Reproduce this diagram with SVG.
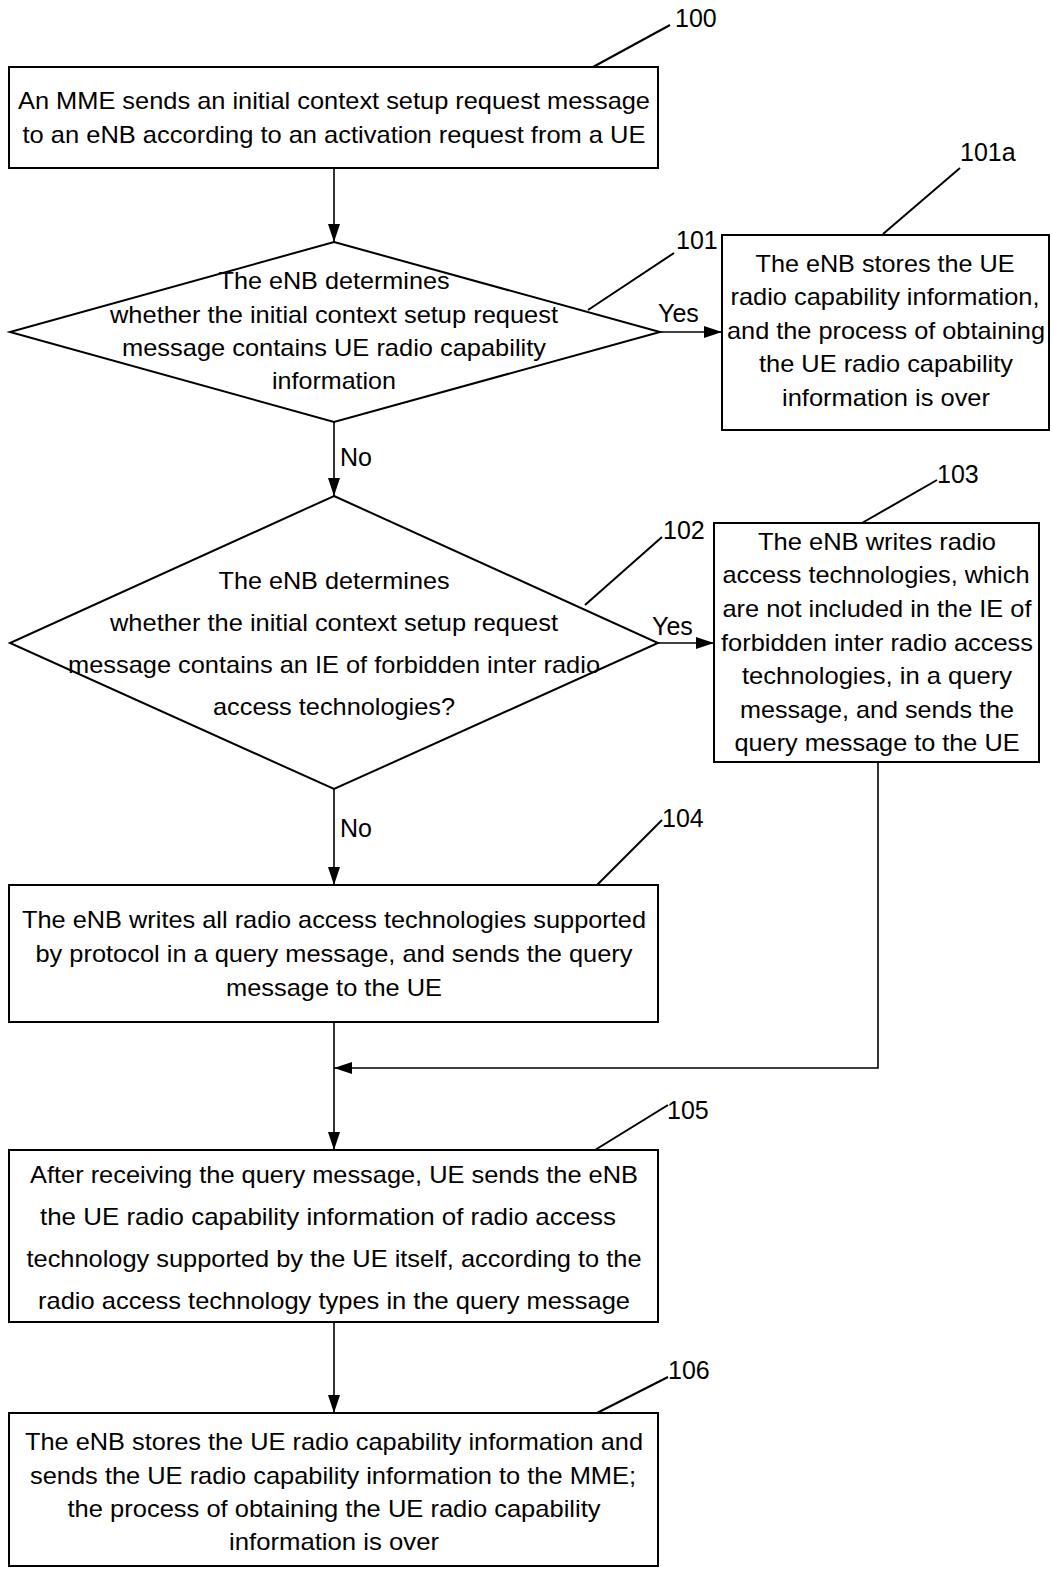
<svg xmlns="http://www.w3.org/2000/svg" width="1052" height="1569" viewBox="0 0 1052 1569">
<style>
.b{fill:#fff;stroke:#000;stroke-width:2}
.t{font-family:"Liberation Sans",Arial,sans-serif;font-size:24px;fill:#000;text-anchor:middle}
.n{font-family:"Liberation Sans",Arial,sans-serif;font-size:25px;fill:#000}
.l{stroke:#000;stroke-width:2;fill:none}
.c{stroke:#000;stroke-width:1.6;fill:none}
</style>
<defs>
<marker id="ah" viewBox="0 0 18 12" refX="18" refY="6" markerWidth="18" markerHeight="12" markerUnits="userSpaceOnUse" orient="auto">
<path d="M0,0 L18,6 L0,12 Z" fill="#000"/>
</marker>
</defs>
<rect width="1052" height="1569" fill="#fff"/>

<g id="connectors">
<line class="c" x1="334" y1="168" x2="334" y2="242" marker-end="url(#ah)"/>
<line class="c" x1="660" y1="332" x2="722" y2="332" marker-end="url(#ah)"/>
<line class="c" x1="334" y1="422" x2="334" y2="496" marker-end="url(#ah)"/>
<line class="c" x1="658" y1="643" x2="714" y2="643" marker-end="url(#ah)"/>
<line class="c" x1="334" y1="789" x2="334" y2="885" marker-end="url(#ah)"/>
<line class="c" x1="334" y1="1022" x2="334" y2="1150" marker-end="url(#ah)"/>
<polyline class="c" points="878,762 878,1068 334,1068" marker-end="url(#ah)"/>
<line class="c" x1="334" y1="1322" x2="334" y2="1413" marker-end="url(#ah)"/>
<text class="n" x="658" y="322">Yes</text>
<text class="n" x="652" y="635">Yes</text>
<text class="n" x="340" y="466">No</text>
<text class="n" x="340" y="837">No</text>
</g>

<g id="n100">
<rect class="b" x="9" y="67" width="649" height="101"/>
<text class="t" x="334" y="109" textLength="632" lengthAdjust="spacingAndGlyphs">An MME sends an initial context setup request message</text>
<text class="t" x="334" y="143" textLength="623" lengthAdjust="spacingAndGlyphs">to an eNB according to an activation request from a UE</text>
<line class="l" x1="593" y1="67" x2="670" y2="25"/>
<text class="n" x="675" y="27">100</text>
</g>

<g id="n101">
<polygon class="b" points="334,242 660,332 334,422 10,332"/>
<text class="t" x="334" y="289" textLength="231" lengthAdjust="spacingAndGlyphs">The eNB determines</text>
<text class="t" x="334" y="323" textLength="448" lengthAdjust="spacingAndGlyphs">whether the initial context setup request</text>
<text class="t" x="334" y="356" textLength="424" lengthAdjust="spacingAndGlyphs">message contains UE radio capability</text>
<text class="t" x="334" y="389" textLength="124" lengthAdjust="spacingAndGlyphs">information</text>
<line class="l" x1="588" y1="310" x2="674" y2="253"/>
<text class="n" x="676" y="249">101</text>
</g>

<g id="n101a">
<rect class="b" x="722" y="235" width="327" height="195"/>
<text class="t" x="885" y="272" textLength="259" lengthAdjust="spacingAndGlyphs">The eNB stores the UE</text>
<text class="t" x="885" y="305" textLength="309" lengthAdjust="spacingAndGlyphs">radio capability information,</text>
<text class="t" x="886" y="339" textLength="318" lengthAdjust="spacingAndGlyphs">and the process of obtaining</text>
<text class="t" x="886" y="372" textLength="254" lengthAdjust="spacingAndGlyphs">the UE radio capability</text>
<text class="t" x="886" y="406" textLength="208" lengthAdjust="spacingAndGlyphs">information is over</text>
<line class="l" x1="883" y1="234" x2="960" y2="168"/>
<text class="n" x="960" y="161">101a</text>
</g>

<g id="n102">
<polygon class="b" points="334,496 658,643 334,789 10,643"/>
<text class="t" x="334" y="589" textLength="231" lengthAdjust="spacingAndGlyphs">The eNB determines</text>
<text class="t" x="334" y="631" textLength="448" lengthAdjust="spacingAndGlyphs">whether the initial context setup request</text>
<text class="t" x="334" y="673" textLength="532" lengthAdjust="spacingAndGlyphs">message contains an IE of forbidden inter radio</text>
<text class="t" x="334" y="715" textLength="242" lengthAdjust="spacingAndGlyphs">access technologies?</text>
<line class="l" x1="585" y1="605" x2="662" y2="537"/>
<text class="n" x="663" y="539">102</text>
</g>

<g id="n103">
<rect class="b" x="714" y="523" width="325" height="239"/>
<text class="t" x="877" y="550" textLength="238" lengthAdjust="spacingAndGlyphs">The eNB writes radio</text>
<text class="t" x="876" y="583" textLength="307" lengthAdjust="spacingAndGlyphs">access technologies, which</text>
<text class="t" x="877" y="617" textLength="309" lengthAdjust="spacingAndGlyphs">are not included in the IE of</text>
<text class="t" x="877" y="651" textLength="312" lengthAdjust="spacingAndGlyphs">forbidden inter radio access</text>
<text class="t" x="877" y="684" textLength="270" lengthAdjust="spacingAndGlyphs">technologies, in a query</text>
<text class="t" x="877" y="718" textLength="274" lengthAdjust="spacingAndGlyphs">message, and sends the</text>
<text class="t" x="877" y="751" textLength="285" lengthAdjust="spacingAndGlyphs">query message to the UE</text>
<line class="l" x1="862" y1="523" x2="937" y2="480"/>
<text class="n" x="937" y="483">103</text>
</g>

<g id="n104">
<rect class="b" x="9" y="885" width="649" height="137"/>
<text class="t" x="334" y="928" textLength="624" lengthAdjust="spacingAndGlyphs">The eNB writes all radio access technologies supported</text>
<text class="t" x="334" y="962" textLength="597" lengthAdjust="spacingAndGlyphs">by protocol in a query message, and sends the query</text>
<text class="t" x="334" y="996" textLength="216" lengthAdjust="spacingAndGlyphs">message to the UE</text>
<line class="l" x1="597" y1="885" x2="662" y2="820"/>
<text class="n" x="662" y="827">104</text>
</g>

<g id="n105">
<rect class="b" x="9" y="1150" width="649" height="172"/>
<text class="t" x="334" y="1183" textLength="608" lengthAdjust="spacingAndGlyphs">After receiving the query message, UE sends the eNB</text>
<text class="t" x="328" y="1225" textLength="576" lengthAdjust="spacingAndGlyphs">the UE radio capability information of radio access</text>
<text class="t" x="334" y="1267" textLength="615" lengthAdjust="spacingAndGlyphs">technology supported by the UE itself, according to the</text>
<text class="t" x="334" y="1309" textLength="592" lengthAdjust="spacingAndGlyphs">radio access technology types in the query message</text>
<line class="l" x1="595" y1="1150" x2="668" y2="1105"/>
<text class="n" x="667" y="1119">105</text>
</g>

<g id="n106">
<rect class="b" x="9" y="1413" width="649" height="153"/>
<text class="t" x="334" y="1450" textLength="618" lengthAdjust="spacingAndGlyphs">The eNB stores the UE radio capability information and</text>
<text class="t" x="333" y="1484" textLength="606" lengthAdjust="spacingAndGlyphs">sends the UE radio capability information to the MME;</text>
<text class="t" x="334" y="1517" textLength="533" lengthAdjust="spacingAndGlyphs">the process of obtaining the UE radio capability</text>
<text class="t" x="334" y="1550" textLength="210" lengthAdjust="spacingAndGlyphs">information is over</text>
<line class="l" x1="597" y1="1413" x2="668" y2="1377"/>
<text class="n" x="668" y="1379">106</text>
</g>
</svg>
